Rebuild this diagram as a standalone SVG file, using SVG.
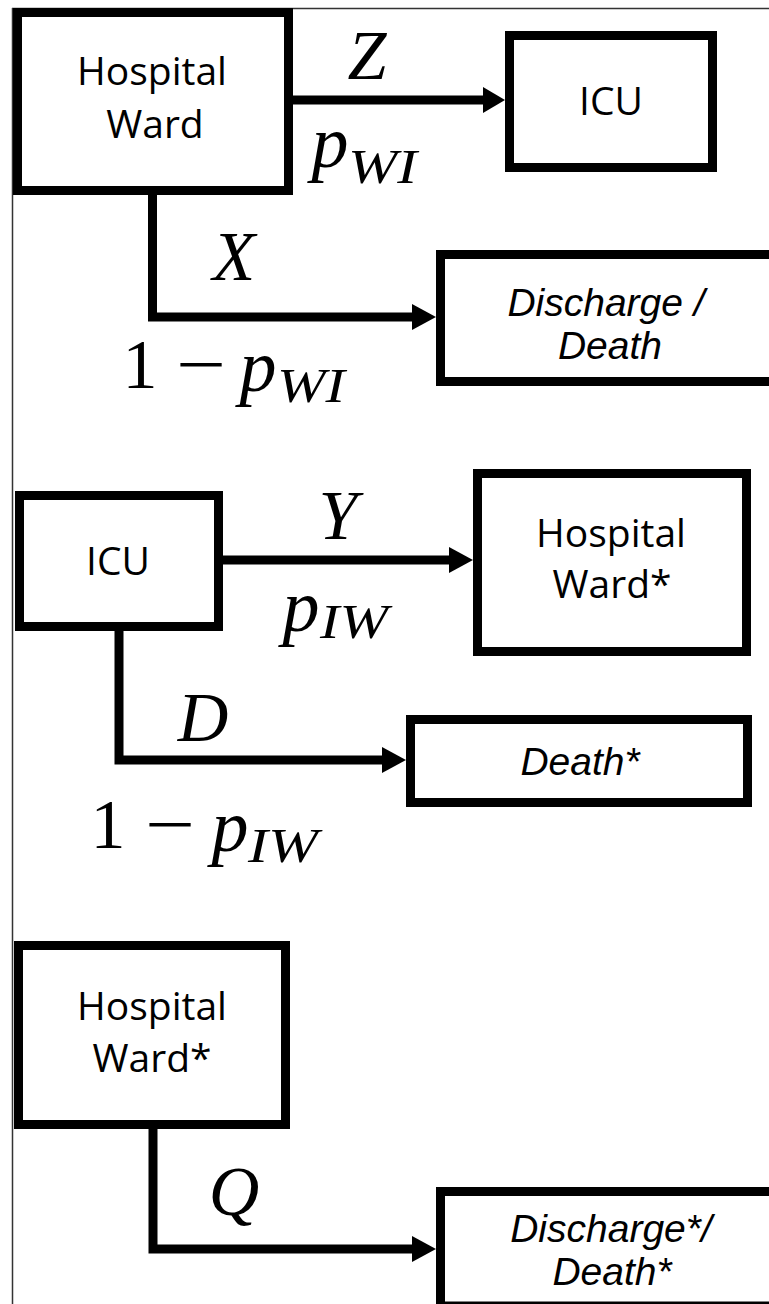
<svg xmlns="http://www.w3.org/2000/svg" width="769" height="1304" viewBox="0 0 769 1304">
  <style>
    .frame { stroke: #333; stroke-width: 1.5; fill: none; }
    .box { fill: #fff; stroke: #000; stroke-width: 9; stroke-linejoin: miter; }
    .conn { fill: none; stroke: #000; stroke-width: 9; stroke-linejoin: miter; }
    .head { fill: #000; }
    .nt { font-family: "Open Sans", "Noto Sans", sans-serif; font-size: 39px; fill: #000; text-anchor: middle; }
    .it { font-family: "Liberation Sans", Arial, sans-serif; font-style: italic; font-size: 39px; fill: #000; text-anchor: middle; }
    .m { font-family: "Liberation Serif", "Times New Roman", serif; font-style: italic; font-size: 70px; fill: #000; text-anchor: middle; }
    .mn { font-family: "Liberation Serif", "Times New Roman", serif; font-size: 70px; fill: #000; text-anchor: middle; }
    .p { font-family: "Liberation Serif", "Times New Roman", serif; font-style: italic; font-size: 74px; fill: #000; text-anchor: middle; }
    .sub { font-family: "Liberation Serif", "Times New Roman", serif; font-style: italic; font-size: 48px; fill: #000; }
  </style>

  <line class="frame" x1="12" y1="8.5" x2="769" y2="8.5"/>
  <line class="frame" x1="12.5" y1="8" x2="12.5" y2="1304"/>

  <g id="connectors">
    <line class="conn" x1="293" y1="100" x2="486" y2="100"/>
    <polygon class="head" points="505,100 483,87 483,113"/>
    <path class="conn" d="M152.5,195 V317 H415"/>
    <polygon class="head" points="436,317 412,304 412,330"/>
    <line class="conn" x1="223" y1="560" x2="452" y2="560"/>
    <polygon class="head" points="473,560 449,547 449,573"/>
    <path class="conn" d="M119,631 V760 H385"/>
    <polygon class="head" points="406,760 382,747 382,773"/>
    <path class="conn" d="M153,1129 V1249 H415"/>
    <polygon class="head" points="436,1249 412,1236 412,1262"/>
  </g>

  <g id="labels">
    <text class="m" x="367" y="79">Z</text>
    <text class="p" x="330" y="167">p</text>
    <text class="sub" x="348" y="183" textLength="69" lengthAdjust="spacingAndGlyphs">WI</text>

    <text class="m" x="234" y="280">X</text>
    <text class="mn" x="140" y="388">1</text>
    <text class="mn" x="176" y="388" textLength="50" lengthAdjust="spacingAndGlyphs" style="text-anchor:start">−</text>
    <text class="p" x="258" y="391">p</text>
    <text class="sub" x="277" y="402" textLength="68" lengthAdjust="spacingAndGlyphs">WI</text>

    <text class="m" x="338" y="539">Y</text>
    <text class="p" x="301" y="631">p</text>
    <text class="sub" x="320" y="638" textLength="68" lengthAdjust="spacingAndGlyphs">IW</text>

    <text class="m" x="203" y="741">D</text>
    <text class="mn" x="108" y="848">1</text>
    <text class="mn" x="145" y="848" textLength="50" lengthAdjust="spacingAndGlyphs" style="text-anchor:start">−</text>
    <text class="p" x="230" y="851">p</text>
    <text class="sub" x="248" y="862" textLength="70" lengthAdjust="spacingAndGlyphs">IW</text>

    <text class="m" x="234" y="1215">Q</text>
  </g>

  <g id="ward1">
    <rect class="box" x="17.5" y="12.5" width="271" height="178"/>
    <text class="nt" x="152" y="85">Hospital</text>
    <text class="nt" x="155" y="138">Ward</text>
  </g>

  <g id="icu1">
    <rect class="box" x="509.5" y="35.5" width="203" height="132"/>
    <text class="nt" x="611" y="115">ICU</text>
  </g>

  <g id="discharge1">
    <rect class="box" x="440.5" y="254.5" width="400" height="127"/>
    <text class="it" x="606" y="316">Discharge /</text>
    <text class="it" x="610" y="359">Death</text>
  </g>

  <g id="icu2">
    <rect class="box" x="19.5" y="495.5" width="199" height="131"/>
    <text class="nt" x="118" y="575">ICU</text>
  </g>

  <g id="ward2">
    <rect class="box" x="477.5" y="473.5" width="269" height="178"/>
    <text class="nt" x="611" y="547">Hospital</text>
    <text class="nt" x="612" y="598">Ward*</text>
  </g>

  <g id="death2">
    <rect class="box" x="410.5" y="719.5" width="337" height="83"/>
    <text class="it" x="580" y="775">Death*</text>
  </g>

  <g id="ward3">
    <rect class="box" x="18.5" y="945.5" width="267" height="179"/>
    <text class="nt" x="152" y="1020">Hospital</text>
    <text class="nt" x="152" y="1072">Ward*</text>
  </g>

  <g id="discharge3">
    <rect class="box" x="440.5" y="1191.5" width="400" height="114.5"/>
    <text class="it" x="611" y="1242">Discharge*/</text>
    <text class="it" x="612" y="1285">Death*</text>
  </g>
</svg>
